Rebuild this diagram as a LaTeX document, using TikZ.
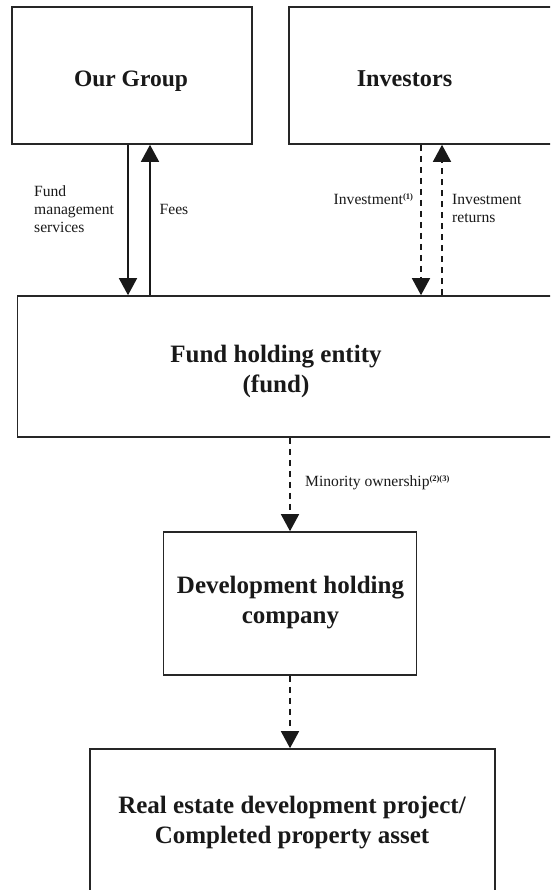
\documentclass[tikz,border=0pt]{standalone}
\usepackage{fontspec}
\setmainfont{Liberation Serif}
\usetikzlibrary{arrows.meta}
\begin{document}
\begin{tikzpicture}[x=1pt,y=-1pt,
  box/.style={draw=black!85, line width=1.6pt, inner sep=0pt},
  head/.style={font=\fontsize{#1}{30}\selectfont\bfseries, align=center, text=black!90, inner sep=0pt, anchor=base},
  head/.default=25,
  lbl/.style={font=\fontsize{15.6}{18.2}\selectfont, align=left, anchor=base west, inner sep=0pt, text=black!90},
  flow/.style={line width=1.5pt, draw=black!90, -{Triangle[width=18pt,length=17pt]}},
  dash flow/.style={flow, dash pattern=on 6pt off 5pt}]
\newcommand{\note}[1]{\textsuperscript{\fontsize{8.5}{8.5}\selectfont\bfseries #1}}
\useasboundingbox (0,0) rectangle (550,890);
\clip (0,0) rectangle (550,890);

% boxes
\node[box, minimum width=240pt, minimum height=137pt] (og)   at (132,75.5) {};
\node[box, minimum width=286pt, minimum height=137pt] (inv)  at (432,75.5) {};
\node[box, minimum width=557.5pt, minimum height=141pt] (fund) at (296.25,366.5) {};
\node[box, minimum width=253pt, minimum height=143pt] (dev)  at (290,603.5) {};
\node[box, minimum width=405pt, minimum height=146pt] (re)   at (292.5,822) {};

% box titles (base anchor sits on the last line)
\node[head=23.5] (ogT)   at (131,87)  {Our Group};
\node[head=24.2] (invT)  at (404.5,87) {Investors};
\node[head] (fundT) at (276,392) {Fund holding entity\\(fund)};
\node[head] (devT)  at (290.5,623) {Development holding\\company};
\node[head] (reT)   at (292,843) {Real estate development project/\\Completed property asset};

% flows between the group, investors and the fund
\draw[flow] ([xshift=-4pt]og.south) -- ([xshift=-4pt]og.south |- fund.north);
\draw[flow] ([xshift=18pt]og.south |- fund.north) -- ([xshift=18pt]og.south);
\draw[dash flow] ([xshift=-11pt]inv.south) -- ([xshift=-11pt]inv.south |- fund.north);
\draw[dash flow] ([xshift=10pt]inv.south |- fund.north) -- ([xshift=10pt]inv.south);

% ownership chain
\draw[dash flow] (dev.north |- fund.south) -- (dev.north);
\draw[dash flow] (dev.south) -- (dev.south |- re.north);

% flow labels
\node[lbl] (fmL)  at (34,232.5) {Fund\\management\\services};
\node[lbl] (feeL) at (159.5,215) {Fees};
\node[lbl] (invL) at (333.5,205) {Investment\note{(1)}};
\node[lbl] (retL) at (452,223) {Investment\\returns};
\node[lbl] (minL) at (305,486.5) {Minority ownership\note{(2)(3)}};
\end{tikzpicture}
\end{document}
